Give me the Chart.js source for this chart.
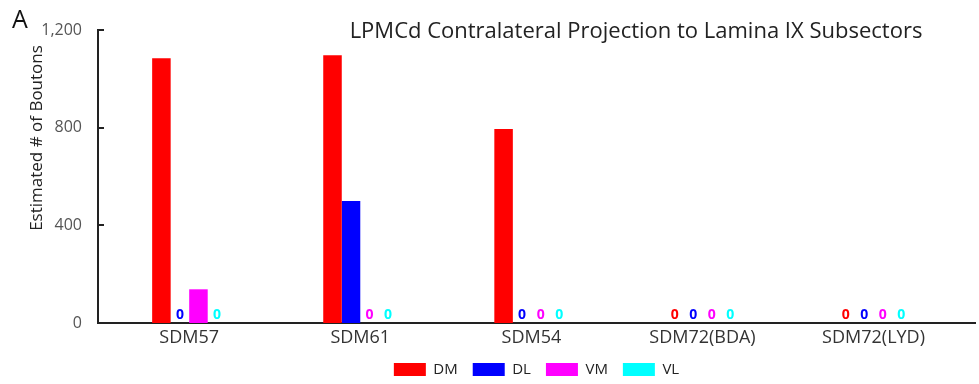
<!DOCTYPE html>
<html>
<head>
<meta charset="utf-8">
<script src="https://cdn.jsdelivr.net/npm/chart.js@4.4.0/dist/chart.umd.min.js"></script>
<style>
  html, body { margin: 0; padding: 0; background: #fff; }
  #wrap { width: 979px; height: 384px; }
</style>
</head>
<body>
<div id="wrap"><canvas id="boutons"></canvas></div>
<script>
const subjects = ['SDM57', 'SDM61', 'SDM54', 'SDM72(BDA)', 'SDM72(LYD)'];
const dm = [1084, 1097, 795, 0, 0];
const dl = [0, 500, 0, 0, 0];
const vm = [138, 0, 0, 0, 0];
const vl = [0, 0, 0, 0, 0];
const yTicks = [0, 400, 800, 1200];

const FONT = "'Open Sans', 'Noto Sans', sans-serif";

const ctx = document.getElementById('boutons');

function series(label, values, color) {
  return {
    label: label,
    data: values.map((v, i) => ({ x: i, y: v })),
    backgroundColor: color,
    borderWidth: 0
  };
}

// a "0" above the axis wherever a subsector got no boutons
const zeroLabels = {
  id: 'zeroLabels',
  afterDatasetsDraw(chart) {
    const c = chart.ctx;
    const base = chart.scales.y.getPixelForValue(0);
    c.save();
    c.font = 'bold 14px ' + FONT;
    c.textAlign = 'center';
    c.textBaseline = 'alphabetic';
    chart.data.datasets.forEach((ds, di) => {
      chart.getDatasetMeta(di).data.forEach((bar, i) => {
        if (ds.data[i].y !== 0) return;
        c.fillStyle = ds.backgroundColor;
        c.fillText('0', bar.x, base - 4);
      });
    });
    c.restore();
  }
};

// inward tick marks, panel letter, title and y title
const decorations = {
  id: 'decorations',
  afterDraw(chart) {
    const c = chart.ctx;
    const y = chart.scales.y;
    const left = chart.chartArea.left;
    c.save();
    c.strokeStyle = '#222';
    c.lineWidth = 2;
    yTicks.slice(1).forEach(t => {
      const py = Math.round(y.getPixelForValue(t));
      c.beginPath();
      c.moveTo(left, py);
      c.lineTo(left + 6, py);
      c.stroke();
    });

    c.fillStyle = '#111';
    c.textBaseline = 'alphabetic';
    c.font = '25px ' + FONT;
    c.fillText('A', 12, 28);
    c.fillStyle = '#222';
    c.textAlign = 'center';
    c.font = '22px ' + FONT;
    c.fillText('LPMCd Contralateral Projection to Lamina IX Subsectors', 636, 38);

    c.translate(37, 138);
    c.rotate(-Math.PI / 2);
    c.textBaseline = 'middle';
    c.font = '17px ' + FONT;
    c.fillText('Estimated # of Boutons', 0, 0);
    c.restore();
  }
};

new Chart(ctx, {
  type: 'bar',
  data: {
    datasets: [
      series('DM', dm, '#ff0000'),
      series('DL', dl, '#0000ff'),
      series('VM', vm, '#ff00ff'),
      series('VL', vl, '#00ffff')
    ]
  },
  options: {
    responsive: true,
    maintainAspectRatio: false,
    animation: false,
    categoryPercentage: 0.433,
    barPercentage: 1,
    layout: { padding: { top: 30, left: 0, right: 4, bottom: 0 } },
    scales: {
      x: {
        type: 'linear',
        min: -0.533,
        max: 4.593,
        offset: false,
        grid: { display: false, drawTicks: false, offset: false },
        border: { color: '#222', width: 2 },
        afterBuildTicks: s => { s.ticks = subjects.map((_, i) => ({ value: i })); },
        afterFit: s => { s.height = 24; },
        ticks: {
          autoSkip: false,
          maxRotation: 0,
          padding: 4,
          color: '#333',
          font: { family: FONT, size: 18 },
          callback: v => subjects[v]
        }
      },
      y: {
        min: 0,
        max: 1200,
        grid: { display: false, drawTicks: false },
        border: { color: '#222', width: 2 },
        afterBuildTicks: s => { s.ticks = yTicks.map(v => ({ value: v })); },
        afterFit: s => { s.width = 98; },
        ticks: {
          padding: 16,
          color: '#555',
          font: { family: FONT, size: 16 }
        }
      }
    },
    plugins: {
      legend: {
        position: 'bottom',
        fullSize: false,
        maxHeight: 37,
        labels: {
          boxWidth: 32,
          boxHeight: 13,
          padding: 15,
          color: '#222',
          font: { family: FONT, size: 15 }
        }
      },
      tooltip: { enabled: false }
    }
  },
  plugins: [zeroLabels, decorations]
});
</script>
</body>
</html>
